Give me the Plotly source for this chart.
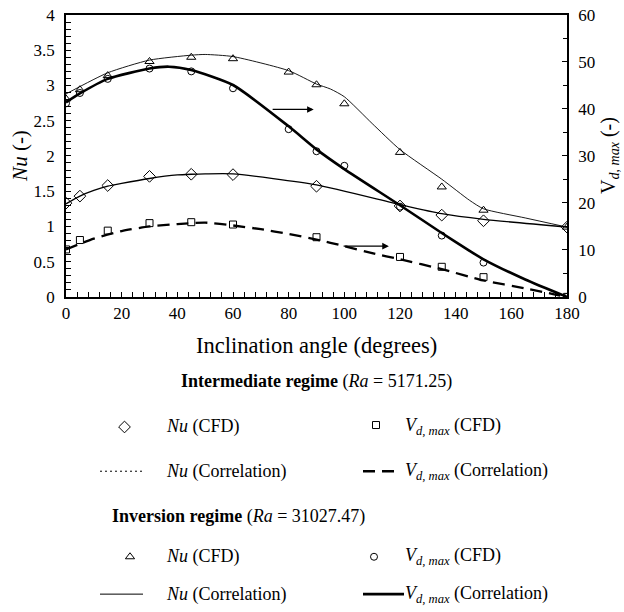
import plotly.graph_objects as go

# ---- data: intermediate regime (Ra = 5171.25) ----
angle_int = [0, 5, 15, 30, 45, 60, 90, 120, 135, 150, 180]
nu_int_cfd = [1.33, 1.43, 1.58, 1.71, 1.74, 1.735, 1.57, 1.29, 1.16, 1.08, 0.99]
vd_int_cfd = [10.1, 12.1, 14.1, 15.7, 15.9, 15.4, 12.7, 8.5, 6.4, 4.2, 0.0]

angle_int_nu_corr = [0, 5, 10, 15, 20, 30, 40, 45, 50, 60, 90, 120, 135, 150, 180]
nu_int_corr = [1.32, 1.43, 1.51, 1.57, 1.61, 1.68, 1.73, 1.74, 1.745, 1.745, 1.59, 1.31, 1.18, 1.10, 0.99]

angle_int_vd_corr = [0, 10, 20, 30, 40, 50, 60, 70, 80, 90, 100, 110, 120, 135, 150, 165, 175, 180]
vd_int_corr = [10.1, 12.4, 14.0, 15.0, 15.5, 15.8, 15.2, 14.4, 13.4, 12.2, 10.8, 9.3, 8.0, 5.9, 3.5, 1.8, 0.6, 0.0]

# ---- data: inversion regime (Ra = 31027.47) ----
angle_inv = [0, 5, 15, 30, 45, 60, 80, 90, 100, 120, 135, 150, 180]
nu_inv_cfd = [2.81, 2.94, 3.14, 3.34, 3.40, 3.38, 3.19, 3.01, 2.74, 2.05, 1.56, 1.23, 0.99]
vd_inv_cfd = [41.2, 43.4, 46.4, 48.6, 48.0, 44.4, 35.7, 31.0, 27.9, 19.2, 13.05, 7.3, 0.0]

angle_inv_nu_corr = [0, 15, 30, 45, 50, 60, 80, 90, 95, 100, 110, 120, 135, 145, 150, 165, 180]
nu_inv_corr = [2.88, 3.18, 3.36, 3.43, 3.44, 3.41, 3.21, 3.02, 2.95, 2.84, 2.46, 2.09, 1.67, 1.37, 1.25, 1.12, 0.99]

angle_inv_vd_corr = [0, 5, 15, 30, 37, 45, 60, 80, 90, 100, 120, 135, 145, 150, 165, 180]
vd_inv_corr = [41.4, 43.3, 46.4, 48.6, 49.0, 48.3, 45.1, 36.3, 31.4, 27.2, 19.5, 13.6, 9.8, 8.0, 3.7, 0.0]

x_ticks = [0, 20, 40, 60, 80, 100, 120, 140, 160, 180]
nu_ticks = [0, 0.5, 1, 1.5, 2, 2.5, 3, 3.5, 4]
vd_ticks = [0, 10, 20, 30, 40, 50, 60]

FONT = "Liberation Serif"
BLACK = "#000000"

fig = go.Figure()

def line(x, y, width, dash="solid", axis="y"):
    fig.add_trace(go.Scatter(x=x, y=y, mode="lines", yaxis=axis,
                             line=dict(color=BLACK, width=width, dash=dash,
                                       shape="spline", smoothing=0.6),
                             showlegend=False, hoverinfo="skip"))

def markers(x, y, symbol, size, axis="y"):
    fig.add_trace(go.Scatter(x=x, y=y, mode="markers", yaxis=axis,
                             marker=dict(symbol=symbol, size=size, color=BLACK,
                                         line=dict(color=BLACK, width=1)),
                             showlegend=False))

# correlation curves
line(angle_int_nu_corr, nu_int_corr, 1.3)
line(angle_int_vd_corr, vd_int_corr, 2.3, dash="12px,7px", axis="y2")
line(angle_inv_nu_corr, nu_inv_corr, 0.9)
line(angle_inv_vd_corr, vd_inv_corr, 2.6, axis="y2")

# CFD points
markers(angle_int, nu_int_cfd, "diamond-open", 9)
markers(angle_int, vd_int_cfd, "square-open", 7, axis="y2")
markers(angle_inv, nu_inv_cfd, "triangle-up-open", 8)
markers(angle_inv, vd_inv_cfd, "circle-open", 7, axis="y2")

# ---- key below the chart, drawn on a pixel-scaled helper axis ----
ROW_HEAD1, ROW_CFD1, ROW_COR1 = 388, 434, 479
ROW_HEAD2, ROW_CFD2, ROW_COR2 = 525, 566, 604

key_markers = [
    (124.5, ROW_CFD1, "diamond-open", 9),
    (376, ROW_CFD1 - 2, "square-open", 7),
    (130, ROW_CFD2, "triangle-up-open", 8),
    (374, ROW_CFD2, "circle-open", 7),
]
for kx, ky, sym, sz in key_markers:
    fig.add_trace(go.Scatter(x=[kx], y=[ky], mode="markers", xaxis="x3", yaxis="y3",
                             marker=dict(symbol=sym, size=sz, color=BLACK,
                                         line=dict(color=BLACK, width=1)),
                             showlegend=False, hoverinfo="skip"))

key_lines = [
    (100, 142, ROW_COR1, 1.0, "2px,3px"),
    (363, 399, ROW_COR1, 2.5, "12px,7px"),
    (100, 143, ROW_COR2, 1.0, "solid"),
    (363, 404, ROW_COR2, 2.8, "solid"),
]
for x0, x1, ky, w, d in key_lines:
    fig.add_trace(go.Scatter(x=[x0, x1], y=[ky, ky], mode="lines", xaxis="x3", yaxis="y3",
                             line=dict(color=BLACK, width=w, dash=d),
                             showlegend=False, hoverinfo="skip"))

VD = "<i>V<sub>d, max</sub></i>"
NU = "<i>Nu</i>"
key_text = [
    (316, ROW_HEAD1, "<b>Intermediate regime</b> (<i>Ra</i> = 5171.25)", "center"),
    (164, ROW_CFD1, NU + " (CFD)", "left"),
    (403, ROW_CFD1, VD + " (CFD)", "left"),
    (164, ROW_COR1, NU + " (Correlation)", "left"),
    (403, ROW_COR1, VD + " (Correlation)", "left"),
    (110, ROW_HEAD2, "<b>Inversion regime</b> (<i>Ra</i> = 31027.47)", "left"),
    (164, ROW_CFD2, NU + " (CFD)", "left"),
    (403, ROW_CFD2, VD + " (CFD)", "left"),
    (164, ROW_COR2, NU + " (Correlation)", "left"),
    (403, ROW_COR2, VD + " (Correlation)", "left"),
]
annotations = []
for tx, ty, txt, anchor in key_text:
    annotations.append(dict(x=tx, y=ty, xref="x3", yref="y3", text=txt, showarrow=False,
                            xanchor=anchor, yanchor="middle",
                            font=dict(family=FONT, size=18, color=BLACK)))

# x-axis title
annotations.append(dict(x=316, y=351, xref="x3", yref="y3", showarrow=False,
                        text="Inclination angle (degrees)", xanchor="center", yanchor="middle",
                        font=dict(family=FONT, size=22.5, color=BLACK)))
# y-axis titles
annotations.append(dict(x=0, y=0.76, xref="paper", yref="paper", xshift=-46, showarrow=False,
                        text="<i>Nu</i> (-)", textangle=-90, xanchor="center", yanchor="middle",
                        font=dict(family=FONT, size=21, color=BLACK)))
annotations.append(dict(x=1, y=0.76, xref="paper", yref="paper", xshift=43, showarrow=False,
                        text="V<sub><i>d, max</i></sub> (-)", textangle=-90,
                        xanchor="center", yanchor="middle",
                        font=dict(family=FONT, size=20, color=BLACK)))

# arrows pointing to the right-hand axis
for ax0, ax1, ay in [(73.7, 89.0, 2.66), (99.2, 116.0, 0.72)]:
    annotations.append(dict(x=ax1, y=ay, ax=ax0, ay=ay, xref="x", yref="y",
                            axref="x", ayref="y", text="", showarrow=True,
                            arrowhead=2, arrowsize=1.1, arrowwidth=1.2, arrowcolor=BLACK))

tick_font = dict(family=FONT, size=17, color=BLACK)
fig.update_layout(
    width=624, height=612,
    margin=dict(l=66, r=57, t=15, b=0),
    paper_bgcolor="white", plot_bgcolor="white",
    showlegend=False,
    annotations=annotations,
    xaxis=dict(domain=[0, 1], anchor="y", range=[0, 180], tickvals=x_ticks,
               showgrid=False, zeroline=False, showline=True, linecolor=BLACK, linewidth=1.5,
               mirror=True, ticks="inside", ticklen=5, tickcolor=BLACK, tickwidth=1,
               minor=dict(dtick=4, ticks="inside", ticklen=5, tickcolor=BLACK, tickwidth=1),
               tickfont=tick_font),
    yaxis=dict(domain=[0.5198, 1], range=[0, 4], tickvals=nu_ticks,
               ticktext=["0", "0.5", "1", "1.5", "2", "2.5", "3", "3.5", "4"],
               showgrid=False, zeroline=False, showline=True, linecolor=BLACK, linewidth=1.5,
               ticks="inside", ticklen=5, tickcolor=BLACK, tickwidth=1,
               minor=dict(dtick=0.1, ticks="inside", ticklen=5, tickcolor=BLACK, tickwidth=1),
               tickfont=tick_font, ticklabelstandoff=6),
    yaxis2=dict(domain=[0.5198, 1], overlaying="y", side="right", anchor="x",
                range=[0, 60], tickvals=vd_ticks,
                showgrid=False, zeroline=False, showline=True, linecolor=BLACK, linewidth=1.5,
                ticks="inside", ticklen=5, tickcolor=BLACK, tickwidth=1,
                minor=dict(dtick=5, ticks="inside", ticklen=4, tickcolor=BLACK, tickwidth=1),
                tickfont=tick_font, ticklabelstandoff=6),
    xaxis3=dict(domain=[0, 1], anchor="y3", range=[66, 567], visible=False, fixedrange=True),
    yaxis3=dict(domain=[0, 0.5], anchor="x3", range=[612, 313.5], visible=False, fixedrange=True),
)

fig.write_html("out.html")
